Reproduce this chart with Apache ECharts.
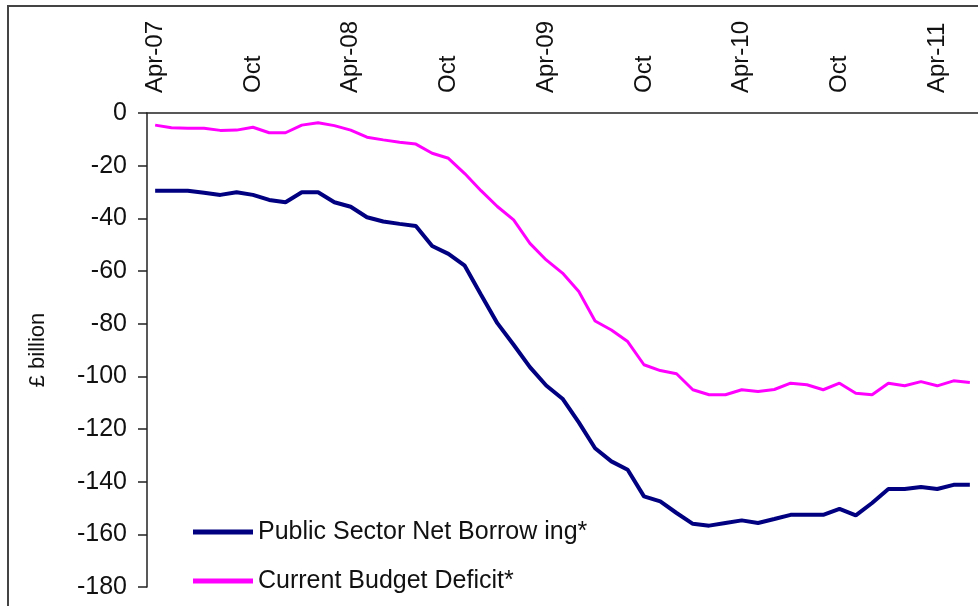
<!DOCTYPE html>
<html>
<head>
<meta charset="utf-8">
<script src="https://cdn.jsdelivr.net/npm/echarts@6/dist/echarts.min.js"></script>
<style>
  html, body { margin: 0; padding: 0; background: #fff; }
  #chart { width: 978px; height: 606px; }
</style>
</head>
<body>
<div id="chart"></div>
<script>
// monthly, Apr-07 .. Jun-11
const months = [
  'Apr-07', 'May-07', 'Jun-07', 'Jul-07', 'Aug-07', 'Sep-07', 'Oct-07', 'Nov-07', 'Dec-07', 'Jan-08', 'Feb-08', 'Mar-08',
  'Apr-08', 'May-08', 'Jun-08', 'Jul-08', 'Aug-08', 'Sep-08', 'Oct-08', 'Nov-08', 'Dec-08', 'Jan-09', 'Feb-09', 'Mar-09',
  'Apr-09', 'May-09', 'Jun-09', 'Jul-09', 'Aug-09', 'Sep-09', 'Oct-09', 'Nov-09', 'Dec-09', 'Jan-10', 'Feb-10', 'Mar-10',
  'Apr-10', 'May-10', 'Jun-10', 'Jul-10', 'Aug-10', 'Sep-10', 'Oct-10', 'Nov-10', 'Dec-10', 'Jan-11', 'Feb-11', 'Mar-11',
  'Apr-11', 'May-11', 'Jun-11'
]
// one label every 6 months
const xTickLabels = ['Apr-07', 'Oct', 'Apr-08', 'Oct', 'Apr-09', 'Oct', 'Apr-10', 'Oct', 'Apr-11']

const psnb = [
  -29.5, -29.5, -29.5, -30.3, -31.1, -30.1, -31.1, -33, -33.9, -30.1, -30.1, -33.9,
  -35.6, -39.6, -41.2, -42.1, -42.9, -50.5, -53.5, -58, -69, -79.8, -88, -96.5,
  -103.5, -108.5, -117.5, -127.3, -132.3, -135.5, -145.6, -147.5, -151.9, -156, -156.7, -155.7,
  -154.7, -155.7, -154.2, -152.6, -152.6, -152.6, -150.3, -152.8, -148.1, -142.8, -142.8, -142,
  -142.8, -141.2, -141.2
]
const cbd = [
  -4.6, -5.6, -5.8, -5.8, -6.6, -6.5, -5.4, -7.5, -7.5, -4.6, -3.7, -4.8,
  -6.5, -9.2, -10.2, -11.1, -11.8, -15.3, -17.2, -23, -29.5, -35.5, -40.6, -49.5,
  -55.8, -60.8, -67.8, -79, -82.4, -86.8, -95.6, -97.8, -99, -105.1, -107, -107,
  -105.1, -105.8, -105, -102.6, -103.2, -105.1, -102.6, -106.4, -107, -102.6, -103.6, -102,
  -103.6, -101.7, -102.3
]

const font = '"Liberation Sans", Arial, sans-serif'
const chart = echarts.init(document.getElementById('chart'))
const option = {
  animation: false,
  backgroundColor: '#fff',
  textStyle: { fontFamily: font },
  graphic: [
    {
      // outer frame of the pasted chart
      type: 'rect',
      shape: { x: 8, y: 6, width: 1400, height: 1400 },
      style: { fill: 'none', stroke: '#444', lineWidth: 2 },
      silent: true
    }
  ],
  grid: {
    left: 147,
    top: 113,
    bottom: 19,
    right: -10
  },
  legend: {
    orient: 'vertical',
    left: 188,
    top: 514,
    itemWidth: 60,
    itemHeight: 5,
    itemGap: 23,
    textStyle: {
      fontFamily: font,
      fontSize: 25,
      lineHeight: 26,
      color: '#111',
      padding: [0, 0, 0, 0]
    },
    data: [
      { name: 'Public Sector Net Borrow ing*', icon: 'rect' },
      { name: 'Current Budget Deficit*', icon: 'rect' }
    ]
  },
  xAxis: {
    type: 'category',
    position: 'top',
    data: months,
    boundaryGap: true,
    axisLine: { lineStyle: { color: '#222', width: 1.5 } },
    axisTick: {
      inside: true,
      length: 8,
      interval: 0,
      lineStyle: { color: '#222', width: 1.5 }
    },
    axisLabel: {
      interval: 5,
      rotate: 90,
      margin: 20,
      fontSize: 24,
      color: '#111',
      fontFamily: font,
      formatter: (val, idx) => xTickLabels[Math.round(idx / 6)]
    },
    splitLine: { show: false }
  },
  yAxis: {
    type: 'value',
    min: -180,
    max: 0,
    interval: 20,
    name: '£ billion',
    nameLocation: 'middle',
    nameRotate: 90,
    nameGap: 98,
    nameTextStyle: { fontSize: 22, color: '#111', fontFamily: font },
    axisLine: { show: true, lineStyle: { color: '#222', width: 1.5 } },
    axisTick: { show: true, length: 9, lineStyle: { color: '#222', width: 1.5 } },
    axisLabel: { margin: 20, fontSize: 25, color: '#111', fontFamily: font },
    splitLine: { show: false }
  },
  series: [
    {
      name: 'Public Sector Net Borrow ing*',
      type: 'line',
      data: psnb,
      symbol: 'none',
      color: '#000080',
      lineStyle: { color: '#000080', width: 4 }
    },
    {
      name: 'Current Budget Deficit*',
      type: 'line',
      data: cbd,
      symbol: 'none',
      color: '#ff00ff',
      lineStyle: { color: '#ff00ff', width: 3 }
    }
  ]
}
chart.setOption(option)
</script>
</body>
</html>
